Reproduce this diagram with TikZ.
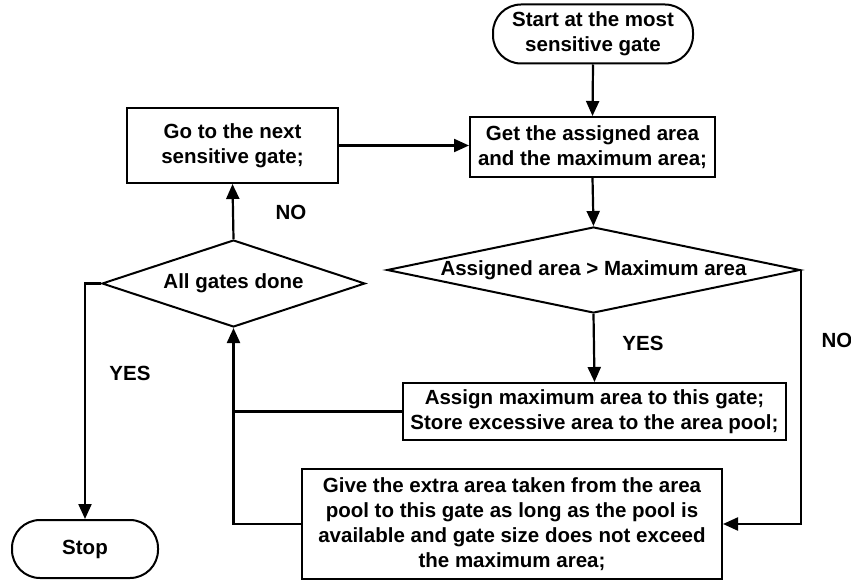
\documentclass[tikz,border=0pt]{standalone}
\usepackage{fontspec}
\setmainfont{Liberation Sans}
\usetikzlibrary{arrows.meta,shapes.geometric}

\tikzset{
  base/.style={draw, line width=2pt, inner sep=0pt, align=center,
    font=\fontsize{20.5}{25}\selectfont\bfseries},
  box/.style={base, rectangle},
  term/.style={base, rectangle, rounded corners=28pt},
  decision/.style={base, diamond, aspect=1},
  flow/.style={line width=2.2pt, -{Triangle[length=15pt,width=13pt]}},
  link/.style={line width=2.2pt},
  tag/.style={font=\fontsize{20.5}{25}\selectfont\bfseries}
}

\begin{document}
\begin{tikzpicture}[x=1pt,y=-1pt]
  \useasboundingbox (0,0) rectangle (851,580);

  % process steps
  \node[term, minimum width=200pt, minimum height=59pt] (start) at (593,34)
    {Start at the most\\sensitive gate};
  \node[box, minimum width=245pt, minimum height=60pt] (get) at (592.5,147)
    {Get the assigned area\\and the maximum area;};
  \node[decision, minimum width=413pt, minimum height=86pt] (cmp) at (593.5,270)
    {\makebox[0pt]{Assigned area > Maximum area}};
  \node[box, minimum width=383pt, minimum height=57pt] (assign) at (594.5,411.5)
    {Assign maximum area to this gate;\\Store excessive area to the area pool;};
  \node[box, minimum width=420pt, minimum height=110pt] (give) at (512,524)
    {Give the extra area taken from the area\\pool to this gate as long as the pool is\\available and gate size does not exceed\\the maximum area;};
  \node[box, minimum width=211pt, minimum height=75pt] (go) at (232.5,145.5)
    {Go to the next\\sensitive gate;};
  \node[decision, minimum width=263pt, minimum height=87pt] (all) at (233.5,283.5)
    {\makebox[0pt]{All gates done}};
  \node[term, minimum width=146pt, minimum height=58pt] (stop) at (85,549)
    {Stop};

  % branch labels
  \node[tag] (yesA) at (643,343) {YES};
  \node[tag] (noA) at (837,340) {NO};
  \node[tag] (noB) at (291,212) {NO};
  \node[tag] (yesB) at (130,373) {YES};

  % connectors
  \draw[flow] (start.south) -- (get.north);
  \draw[flow] (get.south) -- (cmp.north);
  \draw[flow] (cmp.south) -- (assign.north);
  \draw[flow] (cmp.east) |- (give.east);
  \draw[link] (assign.west) -- (assign.west -| all.south);
  \draw[flow] (give.west) -| (all.south);
  \draw[flow] (all.north) -- (go.south);
  \draw[flow] (go.east) -- (go.east -| get.west);
  \draw[flow] (all.west) -| (stop.north);
\end{tikzpicture}
\end{document}
